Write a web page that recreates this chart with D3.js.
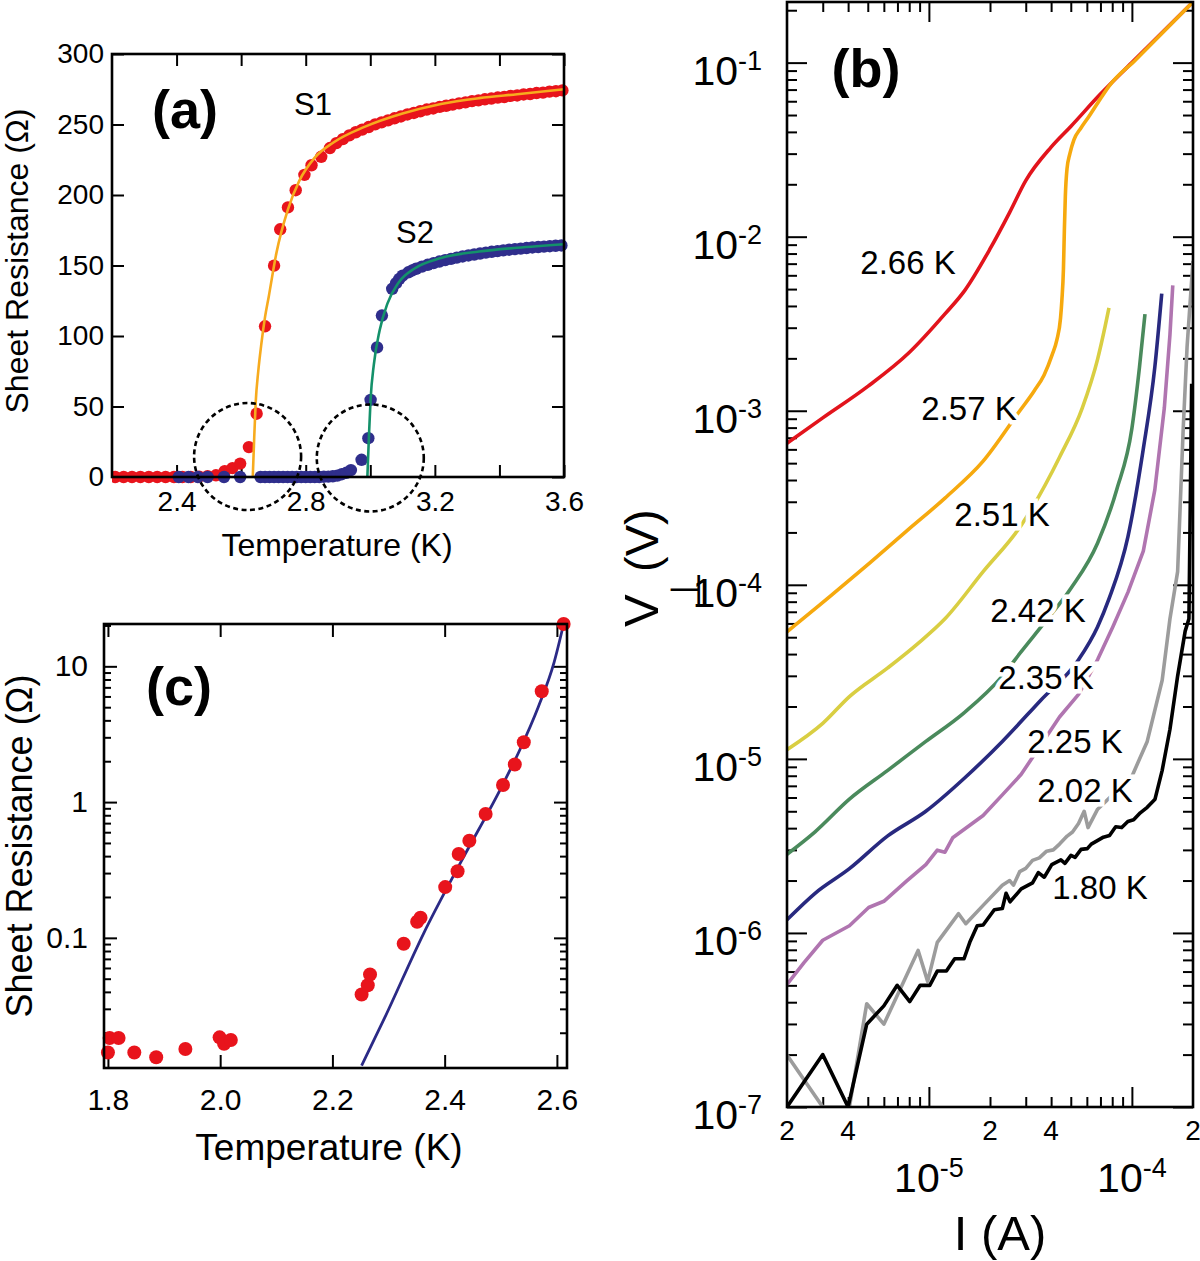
<!DOCTYPE html>
<html><head><meta charset="utf-8">
<script src="https://cdn.jsdelivr.net/npm/d3@7"></script>
<style>
body{margin:0;background:#fff}
svg{display:block}
</style></head>
<body>
<svg id="chart" width="1200" height="1261"></svg>
<script>
// ===================== DATA =====================
// Panel (a): sheet resistance vs temperature, sample S1 (red) and S2 (blue)
const s1Points = [[2.21,0],[2.236,0],[2.262,0],[2.288,0],[2.314,0],[2.34,0],[2.366,0],[2.392,0],[2.418,0],[2.444,0],[2.47,0.3],[2.496,0.6],[2.522,1.2],
 [2.549,4.1],[2.573,6.3],[2.597,9.5],[2.624,21.2],[2.648,44.9],[2.674,106.9],[2.702,149.9],[2.721,175.7],[2.745,191.2],[2.769,203.4],[2.796,214.3],[2.818,221.1],[2.848,227.1],
 [2.875,233.3],[2.895,236.8],[2.915,239.6],[2.935,242.3],[2.955,244.5],[2.975,246.4],[2.995,248.2],[3.015,250.1],[3.035,251.5],[3.055,252.9],[3.075,254.4],[3.095,255.7],
 [3.115,257.1],[3.135,258.2],[3.155,259.4],[3.175,260.6],[3.195,261.4],[3.215,262.5],[3.235,263.3],[3.255,264.1],[3.275,265.0],[3.295,265.7],[3.315,266.6],[3.335,267.1],
 [3.355,267.9],[3.375,268.4],[3.395,269.1],[3.415,269.5],[3.435,270.3],[3.455,270.6],[3.475,271.3],[3.495,271.6],[3.515,272.3],[3.535,272.6],[3.555,273.3],[3.575,273.6],[3.595,274.2]];
const s2Points = [[2.407,0],[2.437,0],[2.466,0],[2.496,0],[2.547,0],[2.597,0],[2.66,0],[2.674,0],[2.688,0],[2.702,0],[2.716,0],[2.73,0],[2.744,0],[2.758,0],[2.772,0],
 [2.786,0],[2.8,0],[2.814,0],[2.828,0],[2.842,0],[2.856,0.2],[2.87,0.3],[2.884,0.5],[2.898,1],[2.912,2],[2.926,3],[2.94,4.9],[2.973,12.2],[2.994,27.5],[3.001,54.7],
 [3.021,91.9],[3.036,114.5],[3.068,133.5],[3.08,137.5],[3.09,140.5],[3.1,142.8],[3.118,145.2],[3.13,146.5],[3.142,147.7],[3.16,149.2],[3.178,150.5],[3.196,151.7],
 [3.214,152.8],[3.232,153.8],[3.25,154.7],[3.268,155.6],[3.286,156.4],[3.304,157.1],[3.322,157.8],[3.34,158.5],[3.358,159.1],[3.376,159.7],[3.394,160.2],[3.412,160.7],
 [3.43,161.2],[3.448,161.6],[3.466,162.0],[3.484,162.4],[3.502,162.8],[3.52,163.1],[3.538,163.4],[3.556,163.7],[3.574,164.0],[3.592,164.2]];
const s1Fit = [[2.636,0],[2.640,25],[2.645,52.5],[2.653,75],[2.662,93.3],[2.673,112],[2.686,128.6],[2.709,158.6],[2.745,189.8],[2.78,210],[2.828,226.5],[2.887,237.4],
 [2.982,248.3],[3.1,257.8],[3.219,264.6],[3.337,268.7],[3.455,271.5],[3.6,275]];
const s2Fit = [[2.991,0],[2.996,30],[3.001,55.2],[3.011,79.7],[3.029,104],[3.053,123],[3.088,138],[3.136,147.7],[3.219,155.3],[3.337,159.9],[3.455,162.6],[3.6,165.1]];
const aXTicks = [2.4,2.6,2.8,3.0,3.2,3.4,3.6];
const aXLabels = [2.4,2.8,3.2,3.6];
const aYTicks = [0,50,100,150,200,250,300];

// Panel (c): low-temperature tail of S1 on a log scale, with fit
const cPoints = [[1.8,0.0143],[1.803,0.0183],[1.819,0.0183],[1.847,0.0143],[1.886,0.0132],[1.938,0.0152],[1.999,0.0185],[2.007,0.0166],[2.019,0.0177],
 [2.252,0.0383],[2.263,0.0448],[2.267,0.0537],[2.327,0.0906],[2.351,0.1315],[2.357,0.1406],[2.401,0.2366],[2.423,0.3097],[2.425,0.415],[2.444,0.519],
 [2.473,0.818],[2.504,1.337],[2.525,1.89],[2.541,2.76],[2.573,6.55],[2.612,20.5]];
const cFit = [[2.252,0.01143],[2.293,0.0257],[2.362,0.1067],[2.43,0.369],[2.499,1.236],[2.533,2.38],[2.567,5.04],[2.595,10.7],[2.612,20.5]];
const cXTicks = [1.8,2.0,2.2,2.4,2.6];
const cYMajor = [0.1,1,10];
const cYLabels = ["0.1","1","10"];

// Panel (b): I-V curves, [current (A), voltage (V)]
const ivTemps = ["2.66 K","2.57 K","2.51 K","2.42 K","2.35 K","2.25 K","2.02 K","1.80 K"];
const iv266 = [[2.0e-6,6.5e-4],[3.0e-6,9.1e-4],[5.0e-6,1.38e-3],[8.0e-6,2.16e-3],[1.2e-5,3.6e-3],[1.5e-5,4.9e-3],[2.0e-5,8.5e-3],[2.5e-5,1.38e-2],
 [3.0e-5,2.1e-2],[4.0e-5,3.27e-2],[5.0e-5,4.3e-2],[7.0e-5,6.6e-2],[1.0e-4,0.1],[2.0e-4,0.223]];
const iv257 = [[2.0e-6,5.37e-5],[3.27e-6,8.6e-5],[5.05e-6,1.32e-4],[7.78e-6,2.04e-4],[1.2e-5,3.15e-4],[1.85e-5,5.13e-4],[2.77e-5,9.8e-4],[3.3e-5,1.3e-3],
 [3.69e-5,1.6e-3],[4.05e-5,2.1e-3],[4.27e-5,2.55e-3],[4.45e-5,3.4e-3],[4.52e-5,4.32e-3],[4.6e-5,6.5e-3],[4.65e-5,1.1e-2],[4.7e-5,1.7e-2],[4.79e-5,2.45e-2],
 [4.95e-5,3.0e-2],[5.18e-5,3.6e-2],[5.6e-5,4.2e-2],[6.14e-5,4.9e-2],[7.0e-5,6.2e-2],[7.7e-5,7.3e-2],[1.045e-4,0.104],[2.0e-4,0.223]];
const iv251 = [[2.0e-6,1.13e-5],[3.0e-6,1.6e-5],[4.06e-6,2.28e-5],[6.27e-6,3.33e-5],[8.85e-6,4.61e-5],[1.2e-5,6.38e-5],[1.85e-5,1.19e-4],[2.85e-5,2.2e-4],
 [4.4e-5,5.41e-4],[5.7e-5,1.04e-3],[6.78e-5,1.98e-3],[7.38e-5,3.05e-3],[7.71e-5,3.9e-3]];
const iv242 = [[2.0e-6,2.83e-6],[2.75e-6,3.81e-6],[4.06e-6,5.87e-6],[6.27e-6,8.59e-6],[9.66e-6,1.26e-5],[1.49e-5,1.84e-5],[2.3e-5,2.99e-5],[2.85e-5,4.13e-5],
 [3.7e-5,6.04e-5],[5.01e-5,9.55e-5],[6.78e-5,1.74e-4],[8.41e-5,3.51e-4],[1.0e-4,7.91e-4],[1.09e-4,1.78e-3],[1.16e-4,3.59e-3]];
const iv235 = [[2.0e-6,1.19e-6],[2.75e-6,1.69e-6],[4.06e-6,2.34e-6],[6.27e-6,3.61e-6],[9.66e-6,5.0e-6],[1.49e-5,7.71e-6],[2.3e-5,1.26e-5],[3.54e-5,2.16e-5],
 [5.46e-5,3.71e-5],[6.78e-5,5.75e-5],[7.71e-5,8.3e-5],[9.57e-5,1.9e-4],[1.138e-4,6.03e-4],[1.297e-4,1.78e-3],[1.403e-4,4.71e-3]];
const iv225 = [[2.0e-6,5.06e-7],[2.42e-6,6.73e-7],[3.0e-6,9.08e-7],[4.06e-6,1.1e-6],[5.05e-6,1.4e-6],[6.0e-6,1.52e-6],[7.78e-6,1.99e-6],[9.66e-6,2.47e-6],
 [1.1e-5,2.99e-6],[1.2e-5,2.91e-6],[1.31e-5,3.52e-6],[1.85e-5,4.73e-6],[2.3e-5,6.21e-6],[2.85e-5,8.15e-6],[4.4e-5,1.74e-5],[5.46e-5,2.35e-5],[6.78e-5,3.72e-5],
 [8.05e-5,5.73e-5],[9.57e-5,9.08e-5],[1.138e-4,1.56e-4],[1.297e-4,3.51e-4],[1.445e-4,1.04e-3],[1.54e-4,2.74e-3],[1.59e-4,5.25e-3]];
const iv202 = [[2.0e-6,1.99e-7],[3.0e-6,1.0e-7],[4.06e-6,1.0e-7],[4.94e-6,3.92e-7],[6.0e-6,2.99e-7],[7.45e-6,5.14e-7],[8.85e-6,7.93e-7],[9.86e-6,5.27e-7],
 [1.1e-5,8.83e-7],[1.4e-5,1.29e-6],[1.52e-5,1.13e-6],[1.85e-5,1.44e-6],[2.3e-5,1.88e-6],[2.5e-5,2.0e-6],[2.61e-5,1.88e-6],[2.8e-5,2.25e-6],[3.0e-5,2.35e-6],
 [3.24e-5,2.61e-6],[3.5e-5,2.7e-6],[3.8e-5,2.95e-6],[4.1e-5,3.0e-6],[4.4e-5,3.24e-6],[4.8e-5,3.6e-6],[5.1e-5,3.8e-6],[5.46e-5,4.25e-6],[5.82e-5,5.0e-6],
 [6.08e-5,4.03e-6],[6.78e-5,5.14e-6],[1.0e-4,7.93e-6],[1.19e-4,1.26e-5],[1.41e-4,2.83e-5],[1.54e-4,6.38e-5],[1.68e-4,1.19e-4],[1.79e-4,7.91e-4],[1.87e-4,2.33e-3],[2.0e-4,7.26e-3]];
const iv180 = [[2.0e-6,1.0e-7],[3.0e-6,2.0e-7],[4.0e-6,1.0e-7],[4.94e-6,2.99e-7],[6.0e-6,3.81e-7],[6.98e-6,5.0e-7],[8.05e-6,4.03e-7],[9.06e-6,5.0e-7],
 [1.01e-5,5.0e-7],[1.1e-5,6.04e-7],[1.22e-5,6.04e-7],[1.34e-5,7.11e-7],[1.49e-5,7.11e-7],[1.59e-5,8.83e-7],[1.73e-5,1.1e-6],[1.85e-5,1.11e-6],[2.1e-5,1.36e-6],
 [2.3e-5,1.38e-6],[2.4e-5,1.69e-6],[2.51e-5,1.51e-6],[2.85e-5,1.79e-6],[3.24e-5,1.94e-6],[3.46e-5,2.22e-6],[3.7e-5,2.09e-6],[4.03e-5,2.47e-6],[4.47e-5,2.63e-6],
 [4.68e-5,2.51e-6],[5.01e-5,2.79e-6],[5.25e-5,2.72e-6],[5.62e-5,3.02e-6],[6.03e-5,3.05e-6],[6.31e-5,3.24e-6],[6.76e-5,3.39e-6],[7.24e-5,3.55e-6],[7.76e-5,3.63e-6],
 [8.32e-5,4.07e-6],[8.91e-5,4.03e-6],[9.55e-5,4.37e-6],[1.02e-4,4.47e-6],[1.1e-4,4.9e-6],[1.19e-4,5.27e-6],[1.3e-4,5.87e-6],[1.41e-4,8.59e-6],[1.54e-4,1.48e-5],
 [1.68e-4,2.99e-5],[1.83e-4,5.42e-5],[1.91e-4,6.38e-5],[1.97e-4,1.43e-3]];
const ivSeries = [iv266, iv257, iv251, iv242, iv235, iv225, iv202, iv180];
const ivColors = ["#E2141C","#F6A90E","#D9CE42","#4A8A5C","#28297F","#B075B0","#9C9C9C","#000000"];
const bXMinorLabels = [[2e-6,"2"],[4e-6,"4"],[2e-5,"2"],[4e-5,"4"],[2e-4,"2"]];
const bXMajor = [1e-5,1e-4];
const bYMajor = [1e-7,1e-6,1e-5,1e-4,1e-3,1e-2,1e-1];

// ===================== DRAWING =====================
const FONT = '"Liberation Sans", Arial, Helvetica, sans-serif';
const svg = d3.select("#chart");
const defs = svg.append("defs");

function clip(id, x0, y0, x1, y1){
  defs.append("clipPath").attr("id", id).append("rect").attr("x",x0).attr("y",y0).attr("width",x1-x0).attr("height",y1-y0);
}
function styleAxis(g, fs){
  g.select(".domain").remove();
  g.selectAll(".tick line").attr("stroke","#000").attr("stroke-width",2);
  g.selectAll(".tick text").attr("font-family",FONT).attr("font-size",fs).attr("fill","#000");
}
function box(x0,y0,x1,y1){
  svg.append("rect").attr("x",x0).attr("y",y0).attr("width",x1-x0).attr("height",y1-y0)
    .attr("fill","none").attr("stroke","#000").attr("stroke-width",2.6);
}

// ---------- Panel (a) ----------
const A = {l:112, r:564, t:54, b:477};
const ax = d3.scaleLinear().domain([2.2,3.6]).range([A.l,A.r]);
const ay = d3.scaleLinear().domain([0,300]).range([A.b,A.t]);
clip("clipA", A.l, A.t-8, A.r+8, A.b+8);

svg.append("g").attr("transform",`translate(0,${A.b})`)
  .call(d3.axisBottom(ax).tickValues(aXTicks).tickSize(-12).tickPadding(14)
    .tickFormat(d => aXLabels.some(v=>Math.abs(v-d)<1e-9) ? d.toFixed(1) : ""))
  .call(g=>styleAxis(g,28));
svg.append("g").attr("transform",`translate(0,${A.t})`)
  .call(d3.axisTop(ax).tickValues(aXTicks).tickSize(-12).tickFormat(""))
  .call(g=>styleAxis(g,28));
svg.append("g").attr("transform",`translate(${A.l},0)`)
  .call(d3.axisLeft(ay).tickValues(aYTicks).tickSize(-12).tickPadding(8))
  .call(g=>styleAxis(g,28));
svg.append("g").attr("transform",`translate(${A.r},0)`)
  .call(d3.axisRight(ay).tickValues(aYTicks).tickSize(-12).tickFormat(""))
  .call(g=>styleAxis(g,28));

const gA = svg.append("g").attr("clip-path","url(#clipA)");
gA.selectAll("circle.s1").data(s1Points).join("circle").attr("class","s1")
  .attr("cx",d=>ax(d[0])).attr("cy",d=>ay(d[1])).attr("r",6.2).attr("fill","#E8141C");
gA.selectAll("circle.s2").data(s2Points).join("circle").attr("class","s2")
  .attr("cx",d=>ax(d[0])).attr("cy",d=>ay(d[1])).attr("r",6.2).attr("fill","#2F2E8C");
const lineA = d3.line().x(d=>ax(d[0])).y(d=>ay(d[1])).curve(d3.curveMonotoneX);
gA.append("path").datum(s1Fit).attr("d",lineA).attr("fill","none").attr("stroke","#F7AB1E").attr("stroke-width",2.6);
gA.append("path").datum(s2Fit).attr("d",lineA).attr("fill","none").attr("stroke","#14916A").attr("stroke-width",2.6);
// dashed circles highlighting the tails
[[2.62,14.5],[3.0,13.5]].forEach(c=>{
  svg.append("circle").attr("cx",ax(c[0])).attr("cy",ay(c[1])).attr("r",53.5)
    .attr("fill","none").attr("stroke","#000").attr("stroke-width",2.6).attr("stroke-dasharray","5,3.5");
});
box(A.l,A.t,A.r,A.b);
svg.append("text").attr("x",337).attr("y",556).attr("text-anchor","middle")
  .attr("font-family",FONT).attr("font-size",32).text("Temperature (K)");
svg.append("text").attr("transform",`translate(28,261) rotate(-90)`).attr("text-anchor","middle")
  .attr("font-family",FONT).attr("font-size",32).text("Sheet Resistance (Ω)");
svg.append("text").attr("x",185).attr("y",128).attr("text-anchor","middle")
  .attr("font-family",FONT).attr("font-weight","bold").attr("font-size",54).text("(a)");
svg.append("text").attr("x",313).attr("y",115).attr("text-anchor","middle")
  .attr("font-family",FONT).attr("font-size",31).text("S1");
svg.append("text").attr("x",415).attr("y",243).attr("text-anchor","middle")
  .attr("font-family",FONT).attr("font-size",31).text("S2");

// ---------- Panel (c) ----------
const C = {l:104, r:567, t:624, b:1068};
const cx = d3.scaleLinear().domain([1.793,2.618]).range([C.l,C.r]);
const cy = d3.scaleLog().domain([0.011,20.5]).range([C.b,C.t]);
clip("clipC", C.l, C.t-10, C.r+10, C.b);
const cMinor = [];
[-2,-1,0,1].forEach(e=>{ for(let m=2;m<=9;m++){ const v=m*Math.pow(10,e); if(v>0.011 && v<20.5) cMinor.push(v);} });

svg.append("g").attr("transform",`translate(0,${C.b})`)
  .call(d3.axisBottom(cx).tickValues(cXTicks).tickSize(-13).tickPadding(21).tickFormat(d3.format(".1f")))
  .call(g=>styleAxis(g,30));
svg.append("g").attr("transform",`translate(0,${C.t})`)
  .call(d3.axisTop(cx).tickValues(cXTicks).tickSize(-13).tickFormat(""))
  .call(g=>styleAxis(g,30));
svg.append("g").attr("transform",`translate(${C.l},0)`)
  .call(d3.axisLeft(cy).tickValues(cYMajor).tickSize(-13).tickPadding(16).tickFormat((d,i)=>cYLabels[i]))
  .call(g=>styleAxis(g,30));
svg.append("g").attr("transform",`translate(${C.l},0)`)
  .call(d3.axisLeft(cy).tickValues(cMinor).tickSize(-7).tickFormat(""))
  .call(g=>styleAxis(g,30));
svg.append("g").attr("transform",`translate(${C.r},0)`)
  .call(d3.axisRight(cy).tickValues(cYMajor).tickSize(-13).tickFormat(""))
  .call(g=>styleAxis(g,30));
svg.append("g").attr("transform",`translate(${C.r},0)`)
  .call(d3.axisRight(cy).tickValues(cMinor).tickSize(-7).tickFormat(""))
  .call(g=>styleAxis(g,30));

const gC = svg.append("g").attr("clip-path","url(#clipC)");
gC.append("path").datum(cFit).attr("d", d3.line().x(d=>cx(d[0])).y(d=>cy(d[1])).curve(d3.curveMonotoneX))
  .attr("fill","none").attr("stroke","#2B2A86").attr("stroke-width",2.8);
svg.append("g").selectAll("circle").data(cPoints).join("circle")
  .attr("cx",d=>cx(d[0])).attr("cy",d=>cy(d[1])).attr("r",7).attr("fill","#E8141C");
box(C.l,C.t,C.r,C.b);
svg.append("text").attr("x",329).attr("y",1160).attr("text-anchor","middle")
  .attr("font-family",FONT).attr("font-size",37).text("Temperature (K)");
svg.append("text").attr("transform",`translate(32,${(C.t+C.b)/2}) rotate(-90)`).attr("text-anchor","middle")
  .attr("font-family",FONT).attr("font-size",36).text("Sheet Resistance (Ω)");
svg.append("text").attr("x",179).attr("y",705).attr("text-anchor","middle")
  .attr("font-family",FONT).attr("font-weight","bold").attr("font-size",54).text("(c)");

// ---------- Panel (b) ----------
const B = {l:787, r:1193, t:2, b:1107};
const bx = d3.scaleLog().domain([2e-6,2e-4]).range([B.l,B.r]);
const by = d3.scaleLog().domain([1e-7,0.223]).range([B.b,B.t]);
clip("clipB", B.l, B.t, B.r, B.b);
const bYMinor = [];
for(let e=-7;e<=-1;e++){ for(let m=2;m<=9;m++){ const v=m*Math.pow(10,e); if(v<0.223) bYMinor.push(v);} }
const bXMinor = [];
for(let e=-6;e<=-4;e++){ for(let m=2;m<=9;m++){ const v=m*Math.pow(10,e); if(v>2.01e-6 && v<1.99e-4) bXMinor.push(v);} }

[["axisLeft",B.l],["axisRight",B.r]].forEach(([fn,pos])=>{
  svg.append("g").attr("transform",`translate(${pos},0)`)
    .call(d3[fn](by).tickValues(bYMajor).tickSize(-20).tickFormat("")).call(g=>styleAxis(g,27));
  svg.append("g").attr("transform",`translate(${pos},0)`)
    .call(d3[fn](by).tickValues(bYMinor).tickSize(-10).tickFormat("")).call(g=>styleAxis(g,27));
});
[["axisBottom",B.b],["axisTop",B.t]].forEach(([fn,pos])=>{
  svg.append("g").attr("transform",`translate(0,${pos})`)
    .call(d3[fn](bx).tickValues(bXMajor).tickSize(-20).tickFormat("")).call(g=>styleAxis(g,27));
  svg.append("g").attr("transform",`translate(0,${pos})`)
    .call(d3[fn](bx).tickValues(bXMinor).tickSize(-10).tickFormat("")).call(g=>styleAxis(g,27));
});

const gB = svg.append("g").attr("clip-path","url(#clipB)");
const lineB = d3.line().x(d=>bx(d[0])).y(d=>by(d[1]));
ivSeries.forEach((s,i)=>{
  const smooth = i<5;
  gB.append("path").datum(s).attr("d", lineB.curve(smooth ? d3.curveMonotoneX : d3.curveLinear))
    .attr("fill","none").attr("stroke",ivColors[i]).attr("stroke-width",3.6).attr("stroke-linejoin","round");
});

box(B.l,B.t,B.r,B.b);

// y tick labels 10^n
bYMajor.forEach(v=>{
  const e = Math.round(Math.log10(v));
  const t = svg.append("text").attr("x",762).attr("y",by(v)+22).attr("text-anchor","end")
    .attr("font-family",FONT).attr("fill","#000");
  t.append("tspan").attr("font-size",41).text("10");
  t.append("tspan").attr("font-size",27).attr("dy",-15).text(String(e));
});
// x tick labels
bXMinorLabels.forEach(([v,s])=>{
  svg.append("text").attr("x",bx(v)).attr("y",1140).attr("text-anchor","middle")
    .attr("font-family",FONT).attr("font-size",28).text(s);
});
bXMajor.forEach(v=>{
  const e = Math.round(Math.log10(v));
  const t = svg.append("text").attr("x",bx(v)).attr("y",1192).attr("text-anchor","middle").attr("font-family",FONT);
  t.append("tspan").attr("font-size",41).text("10");
  t.append("tspan").attr("font-size",27).attr("dy",-15).text(String(e));
});
svg.append("text").attr("x",1000).attr("y",1250).attr("text-anchor","middle")
  .attr("font-family",FONT).attr("font-size",49).text("I (A)");
// V_perp (V)
const vl = svg.append("text").attr("transform","translate(658,627) rotate(-90)").attr("font-family",FONT);
vl.append("tspan").attr("x",0).attr("y",0).attr("font-size",49).text("V");
vl.append("tspan").attr("x",19).attr("y",42).attr("font-size",42).attr("font-family","DejaVu Sans").text("⊥");
vl.append("tspan").attr("x",55).attr("y",0).attr("font-size",47).text("(V)");

svg.append("text").attr("x",866).attr("y",87).attr("text-anchor","middle")
  .attr("font-family",FONT).attr("font-weight","bold").attr("font-size",54).text("(b)");

// temperature labels with white halo
const ivLabelPos = [[908,262],[969,408],[1002,514],[1038,610],[1046,677],[1075,741],[1085,790],[1100,887]];
ivTemps.forEach((s,i)=>{
  svg.append("text").attr("x",ivLabelPos[i][0]).attr("y",ivLabelPos[i][1]+12).attr("text-anchor","middle")
    .attr("font-family",FONT).attr("font-size",33)
    .attr("stroke","#fff").attr("stroke-width",9).attr("paint-order","stroke").attr("fill","#000")
    .text(s);
});
</script>
</body></html>
